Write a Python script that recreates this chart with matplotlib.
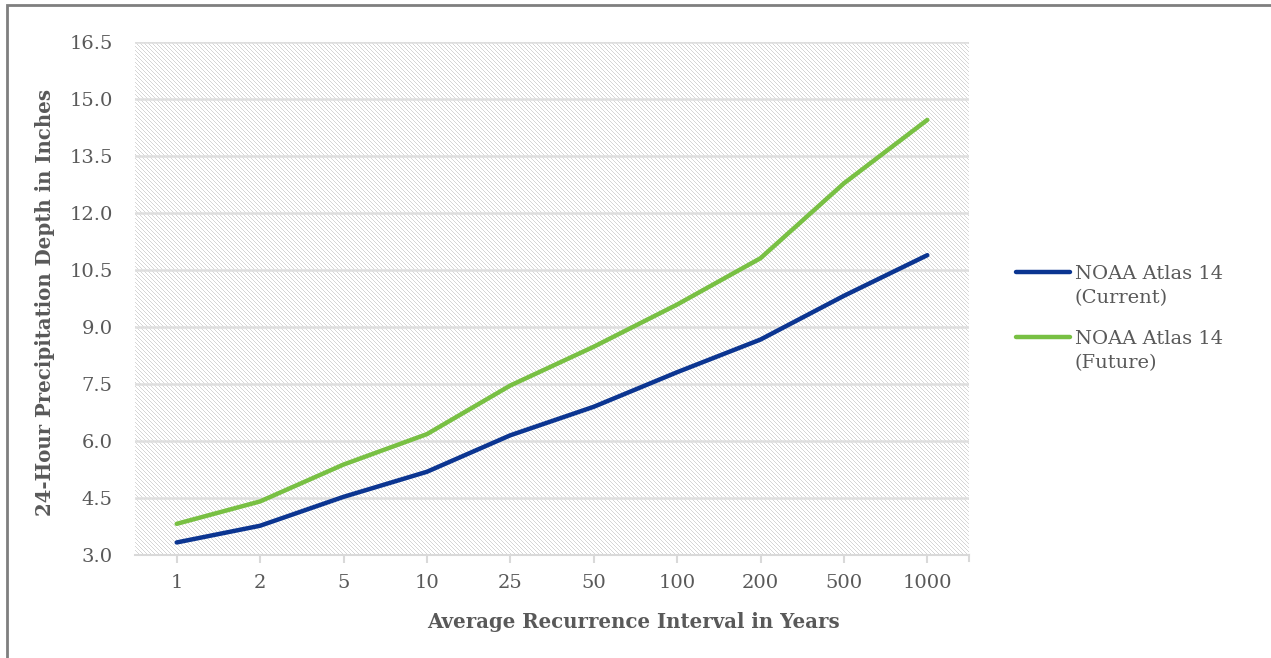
import matplotlib
matplotlib.use("Agg")
import numpy as np
import matplotlib.pyplot as plt
from matplotlib.patches import Rectangle
from matplotlib.lines import Line2D

categories = ["1", "2", "5", "10", "25", "50", "100", "200", "500", "1000"]
current = [3.33, 3.77, 4.53, 5.19, 6.15, 6.90, 7.81, 8.67, 9.82, 10.89]
future = [3.82, 4.41, 5.38, 6.18, 7.46, 8.48, 9.59, 10.81, 12.78, 14.45]
yticks = [3.0, 4.5, 6.0, 7.5, 9.0, 10.5, 12.0, 13.5, 15.0, 16.5]
series_labels = ["NOAA Atlas 14\n(Current)", "NOAA Atlas 14\n(Future)"]
series_colors = ["#0B3591", "#78C043"]

plt.rcParams['font.family'] = ['DejaVu Serif']

txt = '#595959'
grid = '#dedede'

W, H = 1271, 658
fig = plt.figure(figsize=(W / 100, H / 100), dpi=100)
L, R, B, T = 135, 969, 555, 42
ax = fig.add_axes([L / W, 1 - B / H, (R - L) / W, (B - T) / H])

x = list(range(len(categories)))
ax.set_xlim(-0.5, len(categories) - 0.5)
ax.set_ylim(3.0, 16.5)
ax.set_autoscale_on(False)

# pixel diagonal texture for plot-area background
pw, ph = R - L, B - T
cols = np.arange(pw)[None, :]
rows = np.arange(ph)[:, None]
pattern = ((cols - rows) % 4 == 0)
img = np.ones((ph, pw, 3))
img[pattern] = np.array([214, 214, 214]) / 255
ax.imshow(img, extent=(0, 1, 0, 1), transform=ax.transAxes, aspect='auto',
          interpolation='nearest', zorder=0)

for yv in yticks[1:]:
    ax.axhline(yv, color=grid, linewidth=1.8, zorder=1)

for vals, c in zip([current, future], series_colors):
    ax.plot(x, vals, color=c, linewidth=3.2, solid_capstyle='round', zorder=3)

for s in ['top', 'right', 'left']:
    ax.spines[s].set_visible(False)
ax.spines['bottom'].set_color('#d9d9d9')
ax.spines['bottom'].set_linewidth(1.5)

ax.set_yticks(yticks)
ax.set_yticklabels([f"{v:.1f}" for v in yticks])
ax.set_xticks(x)
ax.set_xticklabels(categories)
ax.tick_params(axis='y', length=0, pad=16, labelsize=14, labelcolor=txt)
ax.tick_params(axis='x', length=6, width=1.5, color='#d9d9d9', pad=8, labelsize=14, labelcolor=txt)
ax.plot([len(categories) - 0.5] * 2, [0, -0.012], transform=ax.get_xaxis_transform(),
        color='#d9d9d9', linewidth=1.5, clip_on=False)

fig.text(633 / W, 1 - 622 / H, 'Average Recurrence Interval in Years', fontsize=14.2,
         fontweight='bold', color=txt, ha='center', va='center')
fig.text(45 / W, 1 - 302 / H, '24-Hour Precipitation Depth in Inches', fontsize=14.2,
         fontweight='bold', color=txt, ha='center', va='center', rotation=90)

# legend (handle aligned with first text line, as in the reference)
for i, (lab, c) in enumerate(zip(series_labels, series_colors)):
    yh = 272 + i * 65
    fig.add_artist(Line2D([1016 / W, 1070 / W], [1 - yh / H] * 2, color=c,
                          linewidth=3.2, solid_capstyle='round'))
    fig.text(1075 / W, 1 - (yh - 7) / H, lab, fontsize=14, color=txt,
             ha='left', va='top', linespacing=1.45)

# outer frame
fig.add_artist(Rectangle((7 / W, -0.05), 1.1, 1 - 5 / H + 0.05, transform=fig.transFigure,
                         facecolor='none', edgecolor='#7f7f7f', linewidth=2))

fig.savefig('out.png', dpi=100)
